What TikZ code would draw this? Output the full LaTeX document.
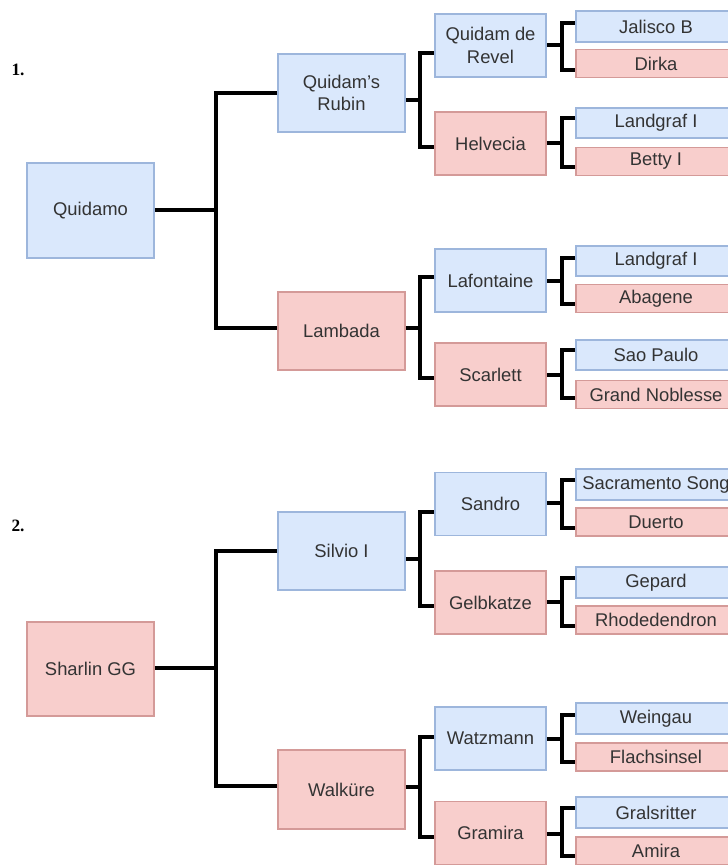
\documentclass[tikz,border=0pt]{standalone}
\usepackage{fontspec}
\setmainfont{Liberation Sans}
\newfontfamily\numfont{Liberation Serif}
\definecolor{bfill}{HTML}{DAE8FC}
\definecolor{bline}{HTML}{9DB6DC}
\definecolor{rfill}{HTML}{F8CECC}
\definecolor{rline}{HTML}{D49A98}
\definecolor{txt}{HTML}{333333}
\tikzset{
  box/.style={draw, line width=1.3pt, inner sep=0pt, align=center, text=txt,
    font=\fontsize{13.8}{17}\selectfont},
  bluebox/.style={box, fill=bfill, draw=bline},
  redbox/.style={box, fill=rfill, draw=rline},
  lz/.style={minimum width=95.25pt, minimum height=71pt},
  lo/.style={minimum width=95.25pt, minimum height=59pt},
  lt/.style={minimum width=83.25pt, minimum height=47.25pt},
  lthtop/.style={minimum width=120pt, minimum height=23pt},
  lthbot/.style={minimum width=120pt, minimum height=21pt},
  conn/.style={draw=black, line width=2.3pt, line join=miter},
  numlabel/.style={font=\numfont\bfseries\fontsize{13}{15}\selectfont, inner sep=0pt}
}
\newcommand{\fork}[7]{% parent, outy, busx, child1, y1, child2, y2
  \draw[conn] (#1.east |- 0,#2) -- (#3,#2);
  \draw[conn] (#4.west |- 0,#5) -- (#3,#5) -- (#3,#7) -- (#6.west |- 0,#7);
}
\begin{document}
\begin{tikzpicture}[x=0.75pt,y=-0.75pt]
\useasboundingbox (0,0) rectangle (728,865);
\clip (0,0) rectangle (728,865);
\fill[white] (0,0) rectangle (728,865);

\node[numlabel] (n1) at (18,70) {1.};
\node[numlabel] (n2) at (18,526) {2.};

% Level 0
\node[bluebox, lz] (quidamo) at (90.5,210.5) {Quidamo};
\node[redbox, lz] (sharlin) at (90.5,669) {Sharlin GG};

% Level 1
\node[bluebox, lo] (rubin) at (341.5,93) {Quidam's\\Rubin};
\node[redbox, lo] (lambada) at (341.5,331) {Lambada};
\node[bluebox, lo] (silvio) at (341.5,551) {Silvio I};
\node[redbox, lo] (walkure) at (341.5,789.5) {Walküre};

% Level 2
\node[bluebox, lt] (revel) at (490.5,45.5) {Quidam de\\Revel};
\node[redbox, lt] (helvecia) at (490.5,143.5) {Helvecia};
\node[bluebox, lt] (lafontaine) at (490.5,280.5) {Lafontaine};
\node[redbox, lt] (scarlett) at (490.5,374.5) {Scarlett};
\node[bluebox, lt] (sandro) at (490.5,504) {Sandro};
\node[redbox, lt] (gelbkatze) at (490.5,602.5) {Gelbkatze};
\node[bluebox, lt] (watzmann) at (490.5,738.5) {Watzmann};
\node[redbox, lt] (gramira) at (490.5,833) {Gramira};

% Level 3
\node[bluebox, lthtop] (jalisco) at (656,26.5) {Jalisco B};
\node[redbox, lthbot] (dirka) at (656,63.5) {Dirka};
\node[bluebox, lthtop] (landgrafa) at (656,123) {Landgraf I};
\node[redbox, lthbot] (betty) at (656,161.5) {Betty I};
\node[bluebox, lthtop] (landgrafb) at (656,261) {Landgraf I};
\node[redbox, lthbot] (abagene) at (656,298.5) {Abagene};
\node[bluebox, lthtop] (saopaulo) at (656,355) {Sao Paulo};
\node[redbox, lthbot] (noblesse) at (656,394.5) {Grand Noblesse};
\node[bluebox, lthtop] (sacramento) at (656,484.5) {Sacramento Song};
\node[redbox, lthbot] (duerto) at (656,522) {Duerto};
\node[bluebox, lthtop] (gepard) at (656,582.5) {Gepard};
\node[redbox, lthbot] (rhod) at (656,620) {Rhodedendron};
\node[bluebox, lthtop] (weingau) at (656,718.5) {Weingau};
\node[redbox, lthbot] (flachs) at (656,757) {Flachsinsel};
\node[bluebox, lthtop] (grals) at (656,812.5) {Gralsritter};
\node[redbox, lthbot] (amira) at (656,851) {Amira};

% Connectors
\fork{quidamo}{210}{216}{rubin}{93}{lambada}{328}
\fork{sharlin}{668}{216}{silvio}{551}{walkure}{786}

\fork{rubin}{100}{420}{revel}{53}{helvecia}{147}
\fork{lambada}{328}{420}{lafontaine}{277}{scarlett}{378}
\fork{silvio}{559}{420}{sandro}{512}{gelbkatze}{606}
\fork{walkure}{787}{420}{watzmann}{737}{gramira}{837}

\fork{revel}{45}{562}{jalisco}{23}{dirka}{70}
\fork{helvecia}{143}{562}{landgrafa}{118}{betty}{167}
\fork{lafontaine}{281}{562}{landgrafb}{258}{abagene}{304}
\fork{scarlett}{375}{562}{saopaulo}{350}{noblesse}{398}
\fork{sandro}{503}{562}{sacramento}{480}{duerto}{528}
\fork{gelbkatze}{602}{562}{gepard}{578}{rhod}{626}
\fork{watzmann}{739}{562}{weingau}{715}{flachs}{762}
\fork{gramira}{834}{562}{grals}{808}{amira}{856}
\end{tikzpicture}
\end{document}
